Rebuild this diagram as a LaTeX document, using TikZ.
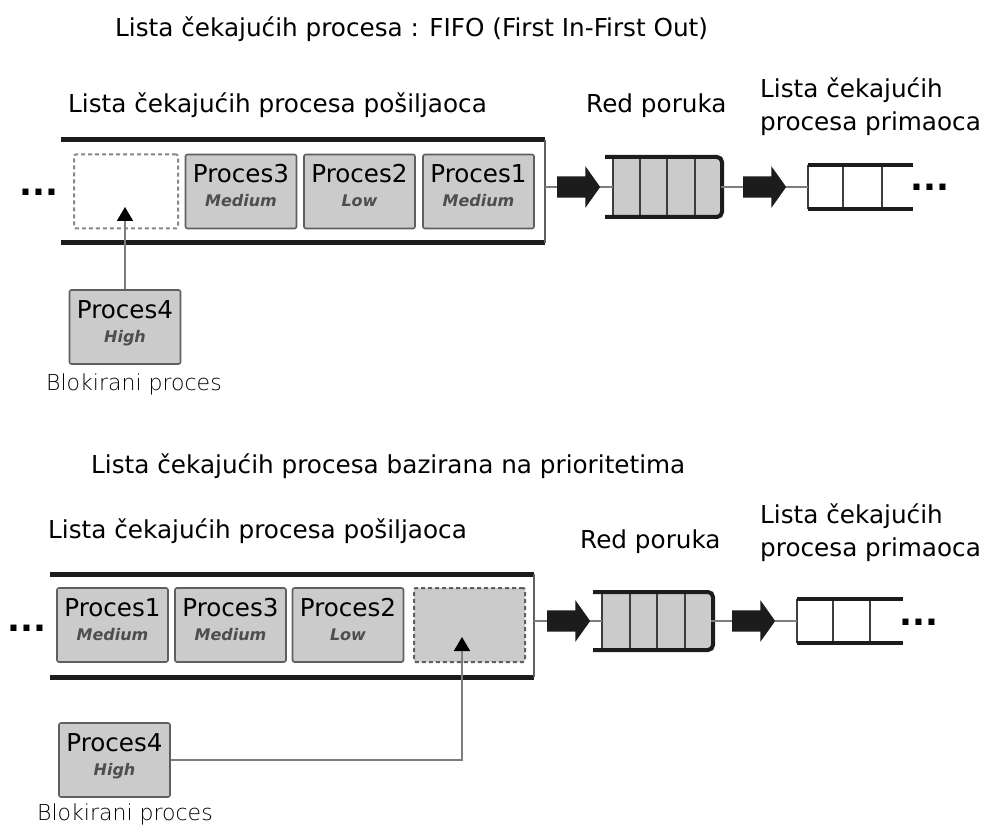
\documentclass[tikz,border=0pt]{standalone}
\usepackage{fontspec}
\setmainfont{DejaVu Sans}
\newfontfamily\lightfont{DejaVu Sans ExtraLight}
\newfontfamily\dotfont{DejaVu Sans Bold}
\newfontfamily\priofont{DejaVu Sans Bold Oblique}
\usetikzlibrary{arrows.meta,shapes.arrows}
\definecolor{procfill}{RGB}{203,203,203}
\definecolor{procdraw}{RGB}{95,95,95}
\definecolor{railc}{RGB}{28,28,28}
\definecolor{connc}{RGB}{125,125,125}
\definecolor{prioc}{RGB}{78,78,78}
\definecolor{slotc}{RGB}{135,135,135}
\newcommand\mkproc[5]{%
  \node[proc] (#1) at (#2,#3) {};
  \node[ptitle] (#1t) at ([yshift=8.5pt]#1.center) {#4};
  \node[pprio] (#1p) at ([yshift=-15.5pt]#1.center) {#5};
}
\tikzset{
  txt/.style={inner sep=0pt, anchor=base west, font=\fontsize{24.7}{29}\selectfont},
  blk/.style={inner sep=0pt, anchor=base west, font=\lightfont\fontsize{22}{26}\selectfont},
  dots/.style={inner sep=0pt, anchor=base west, font=\dotfont\fontsize{34}{36}\selectfont},
  proc/.style={draw=procdraw, fill=procfill, line width=1.6pt, rounded corners=2pt,
    minimum width=111pt, minimum height=74pt, inner sep=0pt},
  slot/.style={proc, draw=slotc, dash pattern=on 4pt off 3pt, line width=2pt},
  ptitle/.style={inner sep=0pt, anchor=base, font=\fontsize{24.6}{28}\selectfont},
  pprio/.style={inner sep=0pt, anchor=base, text=prioc, font=\priofont\fontsize{16}{18}\selectfont},
  rail/.style={draw=railc, line width=5pt},
  side/.style={draw=procdraw, line width=1.6pt},
  conn/.style={draw=connc, line width=1.8pt},
  upconn/.style={conn, -{Triangle[width=16pt,length=14pt,color=black]}},
  bigarrow/.style={single arrow, fill=railc, draw=none, inner xsep=0pt, inner ysep=10.5pt,
    minimum height=43pt, single arrow head extend=10pt, single arrow tip angle=109, anchor=tail},
  qbody/.style={draw=none, inner sep=0pt},
  qrail/.style={draw=railc, line width=4pt, rounded corners=5pt},
  qrailb/.style={draw=railc, line width=3.5pt},
  divider/.style={draw=railc!85, line width=1.8pt},
}
\begin{document}
\begin{tikzpicture}[x=1pt,y=-1pt]
\useasboundingbox (0,0) rectangle (986,826);
% ================= TOP: FIFO =================
\node[txt] (t1) at (115,37) {Lista čekajućih procesa : FIFO (First In-First Out)};
\node[txt] (s1) at (68,113) {Lista čekajućih procesa pošiljaoca};
\node[txt] (r1) at (586,113) {Red poruka};
\node[txt] (l1a) at (760,98) {Lista čekajućih};
\node[txt] (l1b) at (760,131) {procesa primaoca};
% sender list box
\draw[rail] (61,140) -- (545,140);
\draw[rail] (61,243) -- (545,243);
\draw[side] (545,140) -- (545,243);
\coordinate (b1e) at (545,187);
\node[dots] (d1) at (19,196) {...};
\node[slot, fill=white, minimum width=104pt] (e1) at (126,191.5) {};
\mkproc{p13}{241}{191.5}{Proces3}{Medium}
\mkproc{p12}{359.5}{191.5}{Proces2}{Low}
\mkproc{p11}{478.5}{191.5}{Proces1}{Medium}
% blocked process
\mkproc{p14}{125}{327}{Proces4}{High}
\node[blk] (bl1) at (46,391) {Blokirani proces};
\coordinate (tipA) at (125,207);
\draw[upconn] (p14.north) -- (tipA);
% message queue
\node[bigarrow] (a1) at (557,187) {};
\node[qbody, fill=procfill, minimum width=108pt, minimum height=58pt] (q1) at (667,187) {};
\draw[divider] (613,157) -- (613,217) (640,157) -- (640,217) (667,157) -- (667,217) (695,157) -- (695,217);
\draw[qrail] (605,157) -- (722,157) -- (722,217) -- (605,217);
\node[bigarrow] (a2) at (743,187) {};
\node[qbody, minimum width=105pt, minimum height=43pt] (q2) at (860.5,187) {};
\draw[divider] (808,165) -- (808,209) (843,165) -- (843,209) (882,165) -- (882,209);
\draw[qrailb] (808,165) -- (913,165) (808,209) -- (913,209);
\node[dots] (d2) at (910,191) {...};
\draw[conn] (b1e) -- (a1.tail);
\draw[conn] (a1.tip) -- (q1.west);
\draw[conn] (q1.east) -- (a2.tail);
\draw[conn] (a2.tip) -- (q2.west);
% ================= BOTTOM: priority =================
\node[txt] (t2) at (91,473) {Lista čekajućih procesa bazirana na prioritetima};
\node[txt] (s2) at (48,538) {Lista čekajućih procesa pošiljaoca};
\node[txt] (r2) at (580,548) {Red poruka};
\node[txt] (l2a) at (760,523) {Lista čekajućih};
\node[txt] (l2b) at (760,556) {procesa primaoca};
\draw[rail] (50,574) -- (534,574);
\draw[rail] (50,677) -- (534,677);
\draw[side] (534,574) -- (534,677);
\coordinate (b2e) at (534,621);
\node[dots] (d3) at (7,631) {...};
\mkproc{p21}{112.5}{625}{Proces1}{Medium}
\mkproc{p23}{230.5}{625}{Proces3}{Medium}
\mkproc{p22}{348}{625}{Proces2}{Low}
\node[slot, draw=procdraw] (e2) at (469.5,625) {};
\mkproc{p24}{114.5}{760}{Proces4}{High}
\node[blk] (bl2) at (37,820) {Blokirani proces};
\coordinate (tipB) at (462,637);
\draw[upconn] (p24.east) -| (tipB);
% message queue
\node[bigarrow] (a3) at (547,621) {};
\node[qbody, fill=procfill, minimum width=109pt, minimum height=58pt] (q3) at (656.5,621) {};
\draw[divider] (602,592) -- (602,650) (630,592) -- (630,650) (657,592) -- (657,650) (685,592) -- (685,650);
\draw[qrail] (593,592) -- (713,592) -- (713,650) -- (593,650);
\node[bigarrow] (a4) at (732,621) {};
\node[qbody, minimum width=106pt, minimum height=43pt] (q4) at (850,621) {};
\draw[divider] (797,599) -- (797,643) (833,599) -- (833,643) (870,599) -- (870,643);
\draw[qrailb] (797,599) -- (903,599) (797,643) -- (903,643);
\node[dots] (d4) at (899,625) {...};
\draw[conn] (b2e) -- (a3.tail);
\draw[conn] (a3.tip) -- (q3.west);
\draw[conn] (q3.east) -- (a4.tail);
\draw[conn] (a4.tip) -- (q4.west);
\end{tikzpicture}
\end{document}
